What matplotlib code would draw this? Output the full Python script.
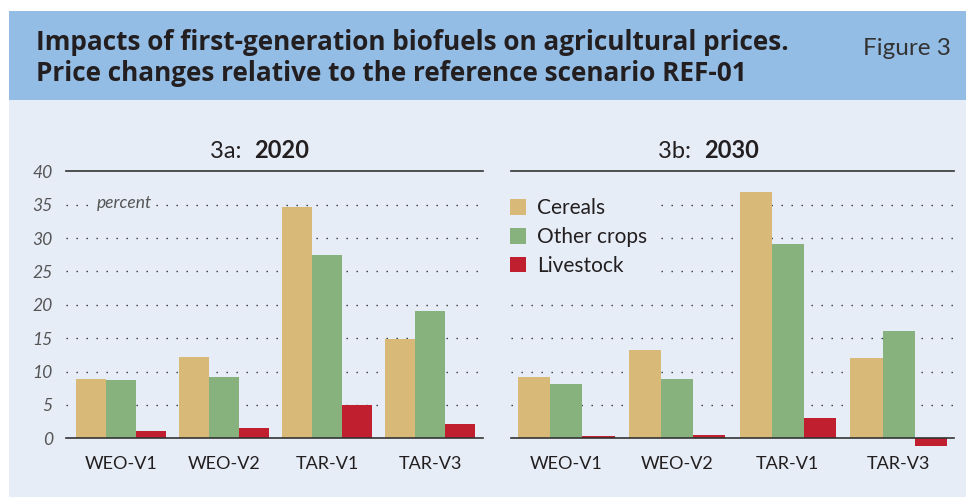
import matplotlib.pyplot as plt
from matplotlib.patches import Rectangle, Patch
import numpy as np

plt.rcParams['font.family'] = ['Lato', 'DejaVu Sans']

# data (percent change vs REF-01)
scenarios = ['WEO-V1', 'WEO-V2', 'TAR-V1', 'TAR-V3']
series_names = ['Cereals', 'Other crops', 'Livestock']

cereals_2020 = [8.9, 12.2, 34.6, 14.9]
other_2020 = [8.7, 9.2, 27.4, 19.1]
livestock_2020 = [1.1, 1.5, 5.0, 2.1]

cereals_2030 = [9.2, 13.2, 36.9, 12.0]
other_2030 = [8.1, 8.9, 29.1, 16.1]
livestock_2030 = [0.3, 0.5, 3.0, -1.2]

yticks = [0, 5, 10, 15, 20, 25, 30, 35, 40]

colors = ['#d9b977', '#88b27d', '#c01f2f']
header_blue = '#94bde6'
bg = '#e6edf7'
ink = '#231f20'

W, H = 966, 497
fig = plt.figure(figsize=(W / 100, H / 100), dpi=100)
fig.patch.set_facecolor('white')


def px(x, y):
    # pixel position (from top-left) -> figure fraction
    return x / W, 1 - y / H


# background panels
fig.patches.append(Rectangle(px(9, 100), (W - 9) / W, 89 / H, transform=fig.transFigure,
                             facecolor=header_blue, edgecolor='none', zorder=-10))
fig.patches.append(Rectangle(px(9, H), (W - 9) / W, (H - 100) / H, transform=fig.transFigure,
                             facecolor=bg, edgecolor='none', zorder=-10))

# header text
fig.text(*px(36, 50), 'Impacts of first-generation biofuels on agricultural prices.',
         fontsize=18.8, fontweight='bold', color=ink, va='baseline', ha='left',
         family=['Open Sans', 'DejaVu Sans'])
fig.text(*px(36, 81), 'Price changes relative to the reference scenario REF-01',
         fontsize=18.8, fontweight='bold', color=ink, va='baseline', ha='left',
         family=['Open Sans', 'DejaVu Sans'])
fig.text(*px(863, 55), 'Figure 3', fontsize=17.5, fontweight='normal', color='#333333',
         va='baseline', ha='left')

y0 = 438.3
h_px = 267
ax1 = fig.add_axes([66 / W, 1 - y0 / H, 417 / W, h_px / H])
ax2 = fig.add_axes([511 / W, 1 - y0 / H, 443 / W, h_px / H])

x = np.arange(len(scenarios))
bw = 0.29

panels = [
    (ax1, [cereals_2020, other_2020, livestock_2020], (-0.53, 3.51)),
    (ax2, [cereals_2030, other_2030, livestock_2030], (-0.5, 3.5)),
]

for ax, data, xl in panels:
    ax.set_facecolor('none')
    for i, vals in enumerate(data):
        ax.bar(x + (i - 1) * bw, vals, width=bw, color=colors[i], zorder=2, clip_on=False)
    ax.set_xlim(*xl)
    ax.set_ylim(0, 40)
    for s in ax.spines.values():
        s.set_visible(False)
    for v in yticks[1:-1]:
        ax.axhline(v, color='#333333', lw=1.0, linestyle=(0, (1, 6.2)), zorder=1)
    ax.axhline(0, color='#333333', lw=1.2, zorder=3, clip_on=False)
    ax.axhline(40, color='#333333', lw=1.2, zorder=3, clip_on=False)
    ax.set_xticks(x)
    ax.set_xticklabels(scenarios, fontsize=13, color=ink)
    ax.tick_params(axis='x', length=0, pad=13)

ax1.set_yticks(yticks)
ax1.set_yticklabels([str(v) for v in yticks], fontsize=12.6, fontstyle='italic', color='#555555')
ax1.tick_params(axis='y', length=0, pad=9.5)
ax2.set_yticks([])

# unit label sits on the 35 gridline, hiding the dots behind it
fig.text(*px(97, 203), 'percent', fontsize=12.5, fontstyle='italic', color='#555555',
         va='center', ha='left', zorder=4,
         bbox=dict(facecolor=bg, edgecolor='none', pad=3))

# panel titles
fig.text(*px(247, 158), '3a: ', fontsize=17, color=ink, ha='right', va='baseline')
fig.text(*px(254, 158), '2020', fontsize=17, fontweight='bold', color=ink, ha='left', va='baseline')
fig.text(*px(697, 158), '3b: ', fontsize=17, color=ink, ha='right', va='baseline')
fig.text(*px(704, 158), '2030', fontsize=17, fontweight='bold', color=ink, ha='left', va='baseline')

handles = [Patch(facecolor=c, edgecolor='none') for c in colors]
leg = ax2.legend(handles, series_names, loc='upper left', bbox_to_anchor=px(502, 190),
                 bbox_transform=fig.transFigure, borderaxespad=0, fontsize=15,
                 handlelength=0.77, handleheight=0.77, handletextpad=0.53,
                 labelspacing=0.42, borderpad=0.4, frameon=True, fancybox=False)
leg.get_frame().set_facecolor(bg)
leg.get_frame().set_edgecolor('none')
leg.get_frame().set_alpha(1)
leg.set_zorder(5)
for t in leg.get_texts():
    t.set_color(ink)

fig.savefig('out.png', dpi=100)
